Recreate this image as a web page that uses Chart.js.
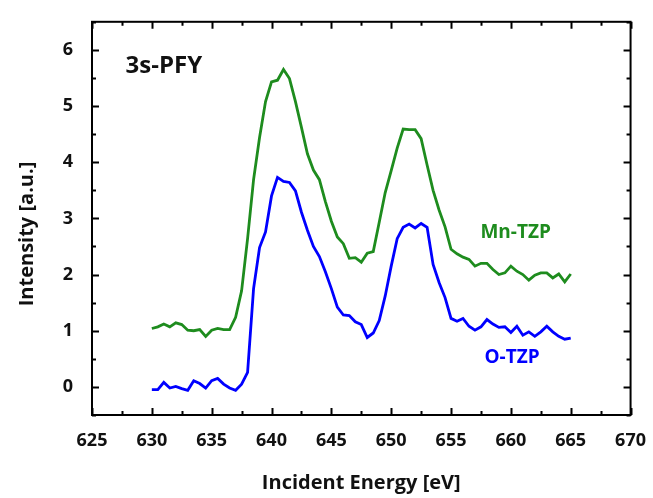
<!DOCTYPE html>
<html>
<head>
<meta charset="utf-8">
<script src="https://cdn.jsdelivr.net/npm/chart.js@4"></script>
<style>
  html, body { margin: 0; padding: 0; background: #fff; }
  #wrap { width: 653px; height: 498px; position: relative; }
</style>
</head>
<body>
<div id="wrap"><canvas id="pfyChart"></canvas></div>
<script>
// incident energy, 630 to 665 eV in 0.5 eV steps
const energy = [
  630, 630.5, 631, 631.5, 632, 632.5, 633, 633.5, 634, 634.5, 635, 635.5, 636, 636.5, 637, 637.5,
  638, 638.5, 639, 639.5, 640, 640.5, 641, 641.5, 642, 642.5, 643, 643.5, 644, 644.5, 645, 645.5,
  646, 646.5, 647, 647.5, 648, 648.5, 649, 649.5, 650, 650.5, 651, 651.5, 652, 652.5, 653, 653.5,
  654, 654.5, 655, 655.5, 656, 656.5, 657, 657.5, 658, 658.5, 659, 659.5, 660, 660.5, 661, 661.5,
  662, 662.5, 663, 663.5, 664, 664.5, 665
];

const mnTzp = [
  1.04, 1.07, 1.12, 1.07, 1.14, 1.11, 1.01, 1.00, 1.02, 0.90, 1.01, 1.04, 1.02, 1.02, 1.24, 1.71,
  2.64, 3.69, 4.44, 5.08, 5.43, 5.46, 5.65, 5.49, 5.08, 4.62, 4.15, 3.86, 3.69, 3.30, 2.95, 2.67,
  2.55, 2.29, 2.30, 2.22, 2.38, 2.41, 2.93, 3.46, 3.85, 4.25, 4.59, 4.58, 4.58, 4.42, 3.95, 3.50,
  3.15, 2.85, 2.45, 2.37, 2.31, 2.27, 2.15, 2.20, 2.20, 2.09, 2.00, 2.03, 2.15, 2.06, 2.00, 1.90,
  1.99, 2.03, 2.03, 1.94, 2.01, 1.87, 2.01
];

const oTzp = [
  -0.05, -0.05, 0.08, -0.02, 0.01, -0.03, -0.06, 0.11, 0.06, -0.02, 0.11, 0.15, 0.05, -0.02, -0.06, 0.05,
  0.26, 1.75, 2.48, 2.76, 3.40, 3.73, 3.66, 3.64, 3.49, 3.11, 2.79, 2.50, 2.32, 2.05, 1.75, 1.42,
  1.28, 1.27, 1.16, 1.11, 0.88, 0.96, 1.18, 1.62, 2.15, 2.64, 2.84, 2.90, 2.83, 2.91, 2.84, 2.18,
  1.86, 1.59, 1.22, 1.17, 1.22, 1.08, 1.01, 1.07, 1.20, 1.12, 1.06, 1.07, 0.97, 1.08, 0.92, 0.98,
  0.90, 0.98, 1.08, 0.98, 0.90, 0.85, 0.87
];

const xTicks = [625, 630, 635, 640, 645, 650, 655, 660, 665, 670];
const yTicks = [0, 1, 2, 3, 4, 5, 6];

// text labels placed in data units
const labels = [
  { text: '3s-PFY', x: 631.0, y: 5.71, color: '#111', size: 24 },
  { text: 'Mn-TZP', x: 660.4, y: 2.75, color: '#1e8c1e', size: 19 },
  { text: 'O-TZP', x: 660.1, y: 0.53, color: '#0000ff', size: 19 }
];

const FONT = "'Open Sans', sans-serif";

// frame with inward ticks on all four sides, plus the text labels
const framePlugin = {
  id: 'frame',
  afterDraw(c) {
    const { ctx, chartArea: a, scales: { x, y } } = c;
    ctx.save();
    ctx.strokeStyle = '#000';
    ctx.lineWidth = 2;
    ctx.strokeRect(a.left, a.top, a.right - a.left, a.bottom - a.top);

    ctx.beginPath();
    for (let v = 625; v <= 670; v += 2.5) {
      const len = v % 5 === 0 ? 7 : 4;
      const px = Math.round(x.getPixelForValue(v)) + 0.5;
      ctx.moveTo(px, a.bottom); ctx.lineTo(px, a.bottom - len);
      ctx.moveTo(px, a.top); ctx.lineTo(px, a.top + len);
    }
    for (let v = -0.5; v <= 6.5; v += 0.5) {
      const len = Number.isInteger(v) ? 7 : 4;
      const py = Math.round(y.getPixelForValue(v)) + 0.5;
      ctx.moveTo(a.left, py); ctx.lineTo(a.left + len, py);
      ctx.moveTo(a.right, py); ctx.lineTo(a.right - len, py);
    }
    ctx.stroke();

    ctx.textAlign = 'center';
    ctx.textBaseline = 'middle';
    labels.forEach(l => {
      ctx.fillStyle = l.color;
      ctx.font = `bold ${l.size}px ${FONT}`;
      ctx.fillText(l.text, x.getPixelForValue(l.x), y.getPixelForValue(l.y));
    });
    ctx.restore();
  }
};

const ctx = document.getElementById('pfyChart').getContext('2d');
new Chart(ctx, {
  type: 'line',
  data: {
    datasets: [
      {
        label: 'Mn-TZP',
        data: energy.map((e, i) => ({ x: e, y: mnTzp[i] })),
        borderColor: '#1e8c1e',
        borderWidth: 2.8,
        pointRadius: 0,
        tension: 0,
        fill: false
      },
      {
        label: 'O-TZP',
        data: energy.map((e, i) => ({ x: e, y: oTzp[i] })),
        borderColor: '#0000ff',
        borderWidth: 2.8,
        pointRadius: 0,
        tension: 0,
        fill: false
      }
    ]
  },
  options: {
    responsive: true,
    maintainAspectRatio: false,
    animation: false,
    layout: { padding: { left: 0, right: 20, top: 15, bottom: 0 } },
    plugins: {
      legend: { display: false },
      tooltip: { enabled: false }
    },
    scales: {
      x: {
        type: 'linear',
        min: 625,
        max: 670,
        afterBuildTicks: s => { s.ticks = xTicks.map(v => ({ value: v })); },
        afterFit: s => { s.height = 83; },
        grid: { display: false },
        border: { display: false },
        ticks: {
          padding: 7,
          color: '#111',
          font: { family: FONT, size: 18, weight: 'bold' }
        },
        title: {
          display: true,
          text: 'Incident Energy [eV]',
          color: '#111',
          font: { family: FONT, size: 20, weight: 'bold' },
          padding: { bottom: 3 }
        }
      },
      y: {
        min: -0.5,
        max: 6.5,
        afterBuildTicks: s => { s.ticks = yTicks.map(v => ({ value: v })); },
        afterFit: s => { s.width = 92; },
        grid: { display: false },
        border: { display: false },
        ticks: {
          padding: 11,
          color: '#111',
          font: { family: FONT, size: 18, weight: 'bold' }
        },
        title: {
          display: true,
          // trailing spaces nudge the rotated title down a bit, like the original
          text: 'Intensity [a.u.]      ',
          color: '#111',
          font: { family: FONT, size: 20, weight: 'bold' },
          padding: { top: 15 }
        }
      }
    }
  },
  plugins: [framePlugin]
});
</script>
</body>
</html>
